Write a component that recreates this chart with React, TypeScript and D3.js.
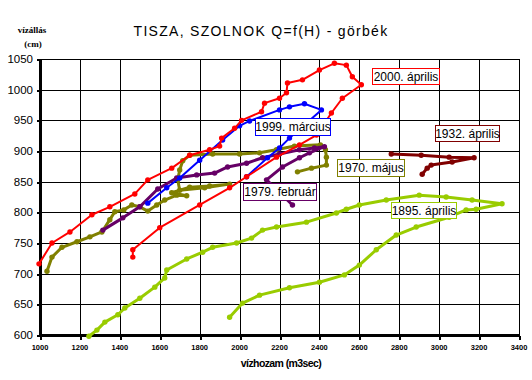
import React from "react";
import * as d3 from "d3";

const X_TICKS = [1000, 1200, 1400, 1600, 1800, 2000, 2200, 2400, 2600, 2800, 3000, 3200, 3400];
const Y_TICKS = [600, 650, 700, 750, 800, 850, 900, 950, 1000, 1050];

// [vízhozam Q (m3/s), vízállás H (cm)]
const S2000: [number, number][] = [
  [1465, 727], [1465, 739], [1600, 775], [1800, 812], [1950, 840], [2035, 858], [2185, 890],
  [2300, 910], [2385, 926], [2460, 962], [2515, 986], [2610, 1008], [2565, 1021], [2535, 1040],
  [2475, 1043], [2400, 1032], [2315, 1016], [2240, 1011], [2235, 995], [2200, 986], [2125, 978],
  [2110, 964], [2010, 950], [1975, 937], [1910, 921], [1900, 908], [1850, 902], [1750, 893],
  [1660, 872], [1540, 853], [1475, 830], [1350, 809], [1260, 796], [1150, 768], [1060, 750],
  [995, 716],
];
const S1999: [number, number][] = [
  [1540, 815], [1635, 840], [1700, 856], [1800, 885], [1915, 918], [2000, 941], [2050, 949],
  [2200, 967], [2250, 972], [2325, 977], [2410, 967], [2250, 921], [2200, 905], [2140, 889],
  [2035, 858],
];
const S1970: [number, number][] = [
  [1035, 704], [1060, 727], [1110, 743], [1185, 752], [1250, 760], [1310, 768], [1350, 788],
  [1375, 801], [1420, 804], [1460, 812], [1500, 809], [1540, 802], [1585, 812], [1625, 820],
  [1685, 828], [1735, 827], [1660, 832], [1750, 841], [1850, 843], [1950, 846], [1825, 840],
  [1700, 836], [1690, 853], [1700, 869], [1715, 884], [1750, 893], [1865, 895], [2000, 895],
  [2100, 897], [2185, 902], [2275, 908], [2405, 910], [2430, 902], [2435, 890], [2435, 877],
  [2360, 872], [2290, 866],
];
const S1979: [number, number][] = [
  [1315, 771], [1415, 791], [1500, 809], [1590, 838], [1685, 856], [1785, 861], [1875, 864],
  [1940, 874], [2035, 880], [2115, 889], [2200, 895], [2300, 902], [2375, 905], [2425, 907],
  [2350, 897], [2300, 889], [2215, 874], [2135, 853], [2265, 812],
];
const S1932: [number, number][] = [
  [2760, 895], [2910, 893], [3050, 890], [3175, 889], [3065, 882], [2960, 877], [2940, 872],
  [2915, 862],
];
const S1895: [number, number][] = [
  [1245, 598], [1285, 608], [1325, 621], [1390, 633], [1425, 644], [1500, 660], [1575, 678],
  [1625, 693], [1635, 706], [1735, 724], [1815, 735], [1865, 743], [1985, 750], [2060, 758],
  [2115, 771], [2185, 776], [2335, 784], [2485, 799], [2535, 805], [2600, 812], [2735, 820],
  [2900, 828], [3035, 825], [3165, 820], [3315, 814], [3185, 805], [3135, 804], [3050, 792],
  [2885, 776], [2785, 763], [2685, 739], [2600, 714], [2525, 698], [2400, 686], [2250, 677],
  [2100, 665], [2015, 652], [1950, 629],
];

const SERIES_NAMES = ["1895. április", "1932. április", "1970. május", "1979. február", "1999. március", "2000. április"];

export default function App() {
  const W = 532, H = 380;
  const x = d3.scaleLinear().domain([1000, 3400]).range([40, 519]);
  const y = d3.scaleLinear().domain([600, 1050]).range([335, 59]);
  const sx = (v: number) => Math.round(x(v)) + 0.5;
  const sy = (v: number) => Math.round(y(v)) + 0.5;
  const line = d3.line<[number, number]>().x(d => x(d[0])).y(d => y(d[1]));

  const series = [
    { name: SERIES_NAMES[0], data: S1895, color: "#99cc00", w: 3, box: [391, 202, 65, 16] },
    { name: SERIES_NAMES[1], data: S1932, color: "#800000", w: 3, box: [435, 125, 64, 16] },
    { name: SERIES_NAMES[2], data: S1970, color: "#808000", w: 3, box: [337, 159, 67, 17] },
    { name: SERIES_NAMES[3], data: S1979, color: "#660066", w: 3, box: [243, 183, 73, 17] },
    { name: SERIES_NAMES[4], data: S1999, color: "#0000ff", w: 2, box: [255, 118, 75, 17] },
    { name: SERIES_NAMES[5], data: S2000, color: "#ff0000", w: 2, box: [372, 68, 67, 16] },
  ];

  const font = "Arial, 'Liberation Sans', sans-serif";

  return (
    <svg width={W} height={H} style={{ position: "absolute", left: 0, top: 0, background: "#fff" }}>
      <rect x={0} y={0} width={W} height={H} fill="#fff" />
      <g shapeRendering="crispEdges">
        {X_TICKS.map(t => (
          <line key={"gx" + t} x1={sx(t)} x2={sx(t)} y1={sy(600)} y2={sy(1050)} stroke="#000" strokeWidth={1} />
        ))}
        {Y_TICKS.map(t => (
          <line key={"gy" + t} x1={sx(1000)} x2={sx(3400)} y1={sy(t)} y2={sy(t)} stroke="#000" strokeWidth={1} />
        ))}
        {Y_TICKS.map(t => (
          <line key={"ty" + t} x1={sx(1000) - 4} x2={sx(1000)} y1={sy(t)} y2={sy(t)} stroke="#000" strokeWidth={2} />
        ))}
        {X_TICKS.map(t => (
          <line key={"tx" + t} x1={sx(t)} x2={sx(t)} y1={sy(600)} y2={sy(600) + 4} stroke="#000" strokeWidth={2} />
        ))}
        <line x1={sx(1000)} x2={sx(1000)} y1={sy(1050) - 1} y2={sy(600) + 1.5} stroke="#000" strokeWidth={3} />
        <line x1={sx(1000) - 1.5} x2={sx(3400)} y1={sy(600)} y2={sy(600)} stroke="#000" strokeWidth={3} />
      </g>
      {Y_TICKS.map(t => (
        <text key={"ly" + t} x={33} y={y(t) + 4} textAnchor="end" fontFamily={font} fontSize={11.5} fill="#000">{t}</text>
      ))}
      {X_TICKS.map(t => (
        <text key={"lx" + t} x={x(t)} y={350} textAnchor="middle" fontFamily="'Liberation Sans', Arial, sans-serif" fontWeight="bold" fontSize={7.5} fill="#000">{t}</text>
      ))}
      {series.map(s => (
        <g key={s.name}>
          <path d={line(s.data) || ""} fill="none" stroke={s.color} strokeWidth={s.w} strokeLinejoin="round" strokeLinecap="round" />
          {s.data.map((d, i) => (
            <circle key={i} cx={x(d[0])} cy={y(d[1])} r={2.7} fill={s.color} />
          ))}
        </g>
      ))}
      {series.map(s => (
        <g key={"lab" + s.name}>
          <rect x={s.box[0] + 0.5} y={s.box[1] + 0.5} width={s.box[2]} height={s.box[3]} fill="#fff" stroke={s.color} strokeWidth={1} shapeRendering="crispEdges" />
          <text x={s.box[0] + s.box[2] / 2 + 0.5} y={s.box[1] + s.box[3] / 2 + 4.5} textAnchor="middle" fontFamily={font} fontSize={12} fill="#000">{s.name}</text>
        </g>
      ))}
      <text x={261} y={36} textAnchor="middle" fontFamily={font} fontSize={14} letterSpacing={1.3} fill="#000">TISZA,  SZOLNOK Q=f(H) - görbék</text>
      <text x={32} y={33} textAnchor="middle" fontFamily="'Liberation Serif', 'Times New Roman', serif" fontWeight="bold" fontSize={9} fill="#000">vízállás</text>
      <text x={33} y={47} textAnchor="middle" fontFamily="'Liberation Serif', 'Times New Roman', serif" fontWeight="bold" fontSize={9} fill="#000">(cm)</text>
      <text x={281} y={367} textAnchor="middle" fontFamily={font} fontWeight="bold" fontSize={10.5} letterSpacing={-0.6} fill="#000">vízhozam (m3sec)</text>
    </svg>
  );
}
